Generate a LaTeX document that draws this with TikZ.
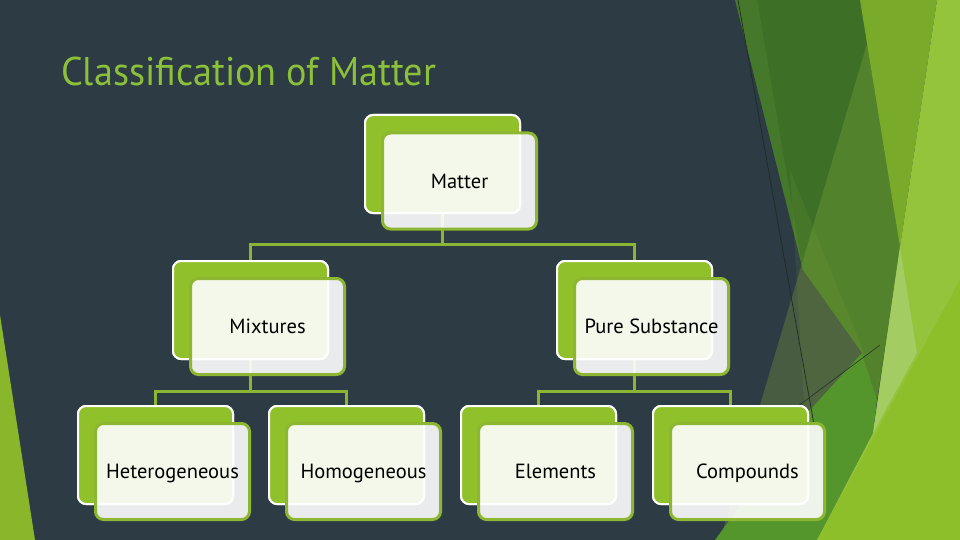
\documentclass[tikz,border=0pt]{standalone}
\usepackage{fontspec}
\usepackage{graphicx}
\newfontfamily\labelfont{PT Sans}
\newfontfamily\titlefont{PT Sans}
\definecolor{bgc}{HTML}{2C3B44}
\definecolor{boxgreen}{HTML}{90C12B}
\definecolor{frameg}{HTML}{8DB732}
\definecolor{connc}{HTML}{8BB532}
\definecolor{titlec}{HTML}{8DC03A}
\definecolor{dkgreen}{HTML}{3E6F27}
\definecolor{stripg}{HTML}{46782B}
\definecolor{oliveg}{HTML}{8DB53A}
\definecolor{midgreen}{HTML}{55962C}
\definecolor{sliverg}{HTML}{7AAA2A}
\definecolor{lightg}{HTML}{93C43B}
\definecolor{lowlight}{HTML}{8CBF2A}
\definecolor{paleg}{HTML}{A3CC62}
\definecolor{leftg}{HTML}{8AB62C}
\definecolor{thinl}{HTML}{1F2B24}
\tikzset{
  backbox/.style={draw=white, line width=2pt, fill=boxgreen, rounded corners=8pt,
    minimum width=155pt, minimum height=98pt, inner sep=0pt},
  frontbox/.style={draw=frameg, line width=3pt, fill=white, fill opacity=0.9, text opacity=1,
    rounded corners=8pt, minimum width=154pt, minimum height=96pt, inner sep=0pt,
    text height=14pt, text depth=0pt,
    font=\labelfont\fontsize{20.5}{24}\selectfont, text=black},
  conn/.style={draw=connc, line width=3pt},
  deco/.style={draw=none}
}
\begin{document}
\begin{tikzpicture}[x=1pt,y=-1pt]
\useasboundingbox (0,0) rectangle (960,540);
% background
\fill[bgc] (0,0) rectangle (960,540);
% left green sliver
\fill[leftg] (0,315) -- (35,540) -- (0,540) -- cycle;
% right decoration
\fill[dkgreen] (748,0) -- (862,0) -- (900,247) -- (877,400) -- (862,353) -- (803,270) -- cycle;
\fill[stripg] (735,0) -- (757,0) -- (803,270) -- cycle;
\fill[oliveg, opacity=0.28] (880,0) -- (905,250) -- (877,400) -- (817,540) -- (720,540) -- cycle;
\fill[oliveg, opacity=0.1] (790,170) -- (865,355) -- (805,420) -- cycle;
\fill[midgreen] (862,353) -- (877,400) -- (873,433) -- (817,540) -- (715,540) -- (810,410) -- cycle;
\fill[sliverg] (860,0) -- (937,0) -- (900,247) -- cycle;
\fill[lightg] (937,0) -- (960,0) -- (960,540) -- (817,540) -- (873,433) -- (900,247) -- cycle;
\fill[lowlight] (817,540) -- (960,280) -- (960,540) -- cycle;
\fill[paleg] (900,247) -- (917,353) -- (873,433) -- cycle;
\draw[thinl, line width=0.7pt] (738,0) -- (815,430);
\draw[thinl, line width=0.5pt] (782,418) -- (880,345);
% title
\node[anchor=south west, inner sep=0pt, text=titlec] (title) at (61,86.5)
  {\resizebox{375pt}{28.5pt}{\titlefont Classification of Matter}};
% back boxes
\node[backbox] (mattB) at (442.5,164) {};
\node[backbox] (mixB) at (250.5,310) {};
\node[backbox] (pureB) at (634.5,310) {};
\node[backbox] (hetB) at (155.5,455) {};
\node[backbox] (homB) at (346.5,455) {};
\node[backbox] (eleB) at (538.5,455) {};
\node[backbox] (comB) at (730.5,455) {};
% connectors
\draw[conn] (mattB.south) -- ++(0,30) -| (mixB.north);
\draw[conn] (mattB.south) -- ++(0,30) -| (pureB.north);
\draw[conn] (mixB.south) -- ++(0,31.5) -| (hetB.north);
\draw[conn] (mixB.south) -- ++(0,31.5) -| (homB.north);
\draw[conn] (pureB.south) -- ++(0,31.5) -| (eleB.north);
\draw[conn] (pureB.south) -- ++(0,31.5) -| (comB.north);
% redraw back boxes over connector ends
\node[backbox] at (mattB) {};
\node[backbox] at (mixB) {};
\node[backbox] at (pureB) {};
\node[backbox] at (hetB) {};
\node[backbox] at (homB) {};
\node[backbox] at (eleB) {};
\node[backbox] at (comB) {};
% front boxes
\node[frontbox] (mattF) at (459.5,181) {Matter};
\node[frontbox] (mixF) at (267.5,326.5) {Mixtures};
\node[frontbox] (pureF) at (651.5,326.5) {Pure Substance};
\node[frontbox] (hetF) at (172.5,471.5) {Heterogeneous};
\node[frontbox] (homF) at (363.5,471.5) {Homogeneous};
\node[frontbox] (eleF) at (555.5,471.5) {Elements};
\node[frontbox] (comF) at (747.5,471.5) {Compounds};
\end{tikzpicture}
\end{document}
